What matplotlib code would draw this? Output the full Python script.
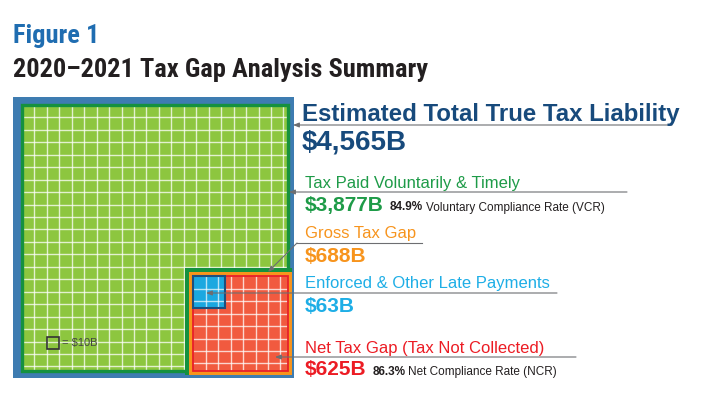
import numpy as np
import matplotlib
matplotlib.use('Agg')
import matplotlib.pyplot as plt
from matplotlib.patches import Rectangle
from matplotlib.lines import Line2D
from matplotlib.transforms import Affine2D
from matplotlib import font_manager
from matplotlib.font_manager import FontProperties

W, H = 707, 398

# values, $ billions
total_liability = 4565
paid_voluntary = 3877
gross_gap = 688
enforced_late = 63
net_gap = 625
vcr = 84.9
ncr = 86.3
unit = 10  # one grid square = $10B

names = ['Estimated Total True Tax Liability', 'Tax Paid Voluntarily & Timely',
         'Gross Tax Gap', 'Enforced & Other Late Payments',
         'Net Tax Gap (Tax Not Collected)']
amounts = ['$' + f'{v:,}' + 'B' for v in [total_liability, paid_voluntary, gross_gap,
                                          enforced_late, net_gap]]

# colours
blue_frame = '#3e7cb1'
green_fill = '#8dc63f'
green_edge = '#15913f'
orange = '#f7941d'
red_fill = '#f15a3f'
red_edge = '#e8202a'
cyan = '#1ba8e0'
cyan_edge = '#1d4f7f'
navy = '#174a7c'
green_txt = '#1e9b48'
cyan_txt = '#1eaee6'
red_txt = '#ec1c24'
dark = '#231f20'
gray = '#6d6e71'
fig_blue = '#1f6db1'
sans = 'Liberation Sans'


# a bold condensed face for the headings, if one is installed
def weight_of(f):
    w = f.weight
    return w if isinstance(w, int) else font_manager.weight_dict.get(w, 400)


prefer = ['Roboto Condensed', 'Open Sans Condensed', 'Noto Sans', 'Liberation Sans Narrow',
          'Open Sans', 'Roboto', 'Inter', 'DejaVu Sans']
cands = [f for f in font_manager.fontManager.ttflist
         if ('condensed' in f.stretch or 'Condensed' in f.name or 'Narrow' in f.name
             or 'Condensed' in f.fname or 'Narrow' in f.fname)
         and weight_of(f) >= 600 and f.style == 'normal']
cands.sort(key=lambda f: (prefer.index(f.name) if f.name in prefer else 99,
                          'Semi' in f.fname, abs(weight_of(f) - 700)))
if cands:
    title_fp = FontProperties(fname=cands[0].fname)
else:
    title_fp = FontProperties(family='DejaVu Sans', weight='bold', stretch='condensed')

fig = plt.figure(figsize=(W / 100, H / 100), dpi=100)
px = Affine2D().scale(1 / W, -1 / H).translate(0, 1) + fig.transFigure


def put(x, y, s, **kw):
    return fig.text(x, y, s, transform=px, va='baseline', **kw)


# side lengths in grid squares
T = np.sqrt(total_liability / unit)
G = np.sqrt(gross_gap / unit)
E = np.sqrt(enforced_late / unit)

ax = fig.add_axes([13 / W, 1 - 378 / H, 281 / W, 281 / H])
ax.set_xlim(-0.72, T + 0.48)
ax.set_ylim(T + 0.56, -0.64)
ax.set_axis_off()
ax.add_patch(Rectangle((0, 0), 1, 1, transform=ax.transAxes, color=blue_frame, zorder=0))

# total liability (green)
g_rect = Rectangle((0, 0), T, T, fc=green_fill, ec='none', zorder=1)
ax.add_patch(g_rect)
k = np.arange(1, T)
vl = ax.vlines(k, 0, T, color='white', lw=1.0, alpha=0.75, zorder=1.5)
hl = ax.hlines(k, 0, T, color='white', lw=1.0, alpha=0.75, zorder=1.5)
vl.set_clip_path(g_rect)
hl.set_clip_path(g_rect)
ax.add_patch(Rectangle((0, 0), T, T, fill=False, ec=green_edge, lw=2.4, zorder=1.6))

# gross gap (orange) in lower right
o = 0.33
x0, y0 = T - G + o, T - G + o
ax.add_patch(Rectangle((x0 - 0.27, y0 - 0.27), G + 0.27, G + 0.27, fc=green_edge, ec='none', zorder=2))
ax.add_patch(Rectangle((x0, y0), G, G, fc=orange, ec='none', zorder=2.1))
b = 0.36
r_rect = Rectangle((x0 + b, y0 + b), G - 2 * b, G - 2 * b, fc=red_fill, ec='none', zorder=2.2)
ax.add_patch(r_rect)
kr = np.arange(1, G - 2 * b)
vl = ax.vlines(x0 + b + kr, y0, y0 + G, color='white', lw=1.0, alpha=0.75, zorder=2.3)
hl = ax.hlines(y0 + b + kr, x0, x0 + G, color='white', lw=1.0, alpha=0.75, zorder=2.3)
vl.set_clip_path(r_rect)
hl.set_clip_path(r_rect)
ax.add_patch(Rectangle((x0 + b, y0 + b), G - 2 * b, G - 2 * b, fill=False, ec=red_edge, lw=1.3, zorder=2.4))

# enforced & late payments (blue) in top-left of gap
c_rect = Rectangle((x0 + b, y0 + b), E, E, fc=cyan, ec='none', zorder=2.5)
ax.add_patch(c_rect)
ke = np.arange(1, E)
vl = ax.vlines(x0 + b + ke, y0 + b, y0 + b + E, color='white', lw=1.0, alpha=0.7, zorder=2.6)
hl = ax.hlines(y0 + b + ke, x0 + b, x0 + b + E, color='white', lw=1.0, alpha=0.7, zorder=2.6)
vl.set_clip_path(c_rect)
hl.set_clip_path(c_rect)
ax.add_patch(Rectangle((x0 + b, y0 + b), E, E, fill=False, ec=cyan_edge, lw=1.5, zorder=2.7))

# key square
ax.add_patch(Rectangle((2.0, 18.6), 1, 1, fill=False, ec='#333333', lw=1.2, zorder=3))
ax.text(3.2, 19.15, '= $10B', fontsize=8, color='#444444', va='center', family=sans, zorder=3)

# titles, sized to fit the reference widths
fig.canvas.draw()
rend = fig.canvas.get_renderer()
for y, s, col, width in [(43, 'Figure 1', fig_blue, 86),
                         (77, '2020\u20132021 Tax Gap Analysis Summary', dark, 415)]:
    t = put(13, y, s, fontsize=20, color=col, fontproperties=title_fp)
    w = t.get_window_extent(rend).width
    t.set_fontsize(20 * width / w)

# labels
put(302, 121, names[0], fontsize=17.3, fontweight='bold', color=navy, family=sans)
put(302, 150, amounts[0], fontsize=20, fontweight='bold', color=navy, family=sans)
put(305, 188, names[1], fontsize=12, color=green_txt, family=sans)
t1 = put(305, 210.5, amounts[1], fontsize=15, fontweight='bold', color=green_txt, family=sans)
put(305, 238, names[2], fontsize=12, color=orange, family=sans)
put(305, 261.5, amounts[2], fontsize=15, fontweight='bold', color=orange, family=sans)
put(305, 288, names[3], fontsize=12, color=cyan_txt, family=sans)
put(305, 311.5, amounts[3], fontsize=15, fontweight='bold', color=cyan_txt, family=sans)
put(305, 352.5, names[4], fontsize=12, color=red_txt, family=sans)
t2 = put(305, 375, amounts[4], fontsize=15, fontweight='bold', color=red_txt, family=sans)

fig.canvas.draw()
for t, pct, rest in [(t1, vcr, 'Voluntary Compliance Rate (VCR)'),
                     (t2, ncr, 'Net Compliance Rate (NCR)')]:
    bb = t.get_window_extent(rend)
    yb = t.get_position()[1]
    p = put(bb.x1 + 6, yb, f'{pct}%', fontsize=8.5, fontweight='bold', color=dark, family=sans)
    fig.canvas.draw()
    bb2 = p.get_window_extent(rend)
    put(bb2.x1 + 2.5, yb, rest, fontsize=8.5, color=dark, family=sans)

# leader lines
arrow = dict(arrowstyle='-|>,head_length=0.35,head_width=0.14', color=gray, lw=0.8,
             shrinkA=0, shrinkB=0)
for tip, end in [((293, 125), (672, 125)),
                 ((289, 192), (627, 192)),
                 ((206, 293), (557, 293)),
                 ((275, 357), (576, 357))]:
    ax.annotate('', xy=tip, xycoords=px, xytext=end, textcoords=px,
                arrowprops=arrow, zorder=5, annotation_clip=False)
fig.add_artist(Line2D([297, 422], [243, 243], transform=px, color=gray, lw=0.8))
ax.annotate('', xy=(268, 272), xycoords=px, xytext=(297, 243), textcoords=px,
            arrowprops=arrow, zorder=5, annotation_clip=False)

fig.savefig('out.png', dpi=100)
